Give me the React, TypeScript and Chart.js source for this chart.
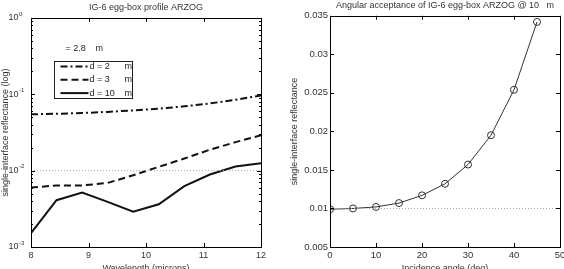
import React, { useEffect, useRef } from "react";
import { Chart, registerables } from "chart.js";
Chart.register(...registerables);

// ---------- Left chart data ----------
const wavelengths = [8, 8.444, 8.889, 9.333, 9.778, 10.222, 10.667, 11.111, 11.556, 12];
const reflD2 = [0.0547, 0.0555, 0.0568, 0.0588, 0.0615, 0.0648, 0.0695, 0.0758, 0.0845, 0.0964];
const reflD3 = [0.006, 0.0064, 0.0064, 0.0069, 0.0087, 0.0112, 0.0144, 0.0188, 0.0236, 0.0291];
const reflD10 = [0.00152, 0.0041, 0.00515, 0.0039, 0.00289, 0.00363, 0.00628, 0.0089, 0.0113, 0.01247];
const leftSeriesLabels = ["d = 2", "d = 3", "d = 10"];
const leftUnit = "m";
const leftHeader = ["= 2.8", "m"];
const leftRefX = [8, 12];
const leftRefY = [0.01, 0.01];
const leftXTicks = [8, 9, 10, 11, 12];
const leftYTicks = [0.001, 0.01, 0.1, 1];
const leftYTickBase = "10";
const leftYTickExponents = ["-3", "-2", "-1", "0"];
const leftTitle = "IG-6 egg-box profile ARZOG";
const leftXTitle = "Wavelength (microns)";
const leftYTitle = "single-interface reflectance (log)";

// ---------- Right chart data ----------
const angles = [0, 5, 10, 15, 20, 25, 30, 35, 40, 45];
const angularRefl = [0.0099, 0.01, 0.0102, 0.0107, 0.0117, 0.0132, 0.0157, 0.0195, 0.0254, 0.0342];
const rightRefX = [0, 50];
const rightRefY = [0.01, 0.01];
const rightXTicks = [0, 10, 20, 30, 40, 50];
const rightYTicks = [0.005, 0.01, 0.015, 0.02, 0.025, 0.03, 0.035];
const rightYTickLabels = ["0.005", "0.01", "0.015", "0.02", "0.025", "0.03", "0.035"];
const rightTitle = "Angular acceptance of IG-6 egg-box ARZOG @ 10   m";
const rightXTitle = "Incidence angle (deg)";
const rightYTitle = "single-interface reflectance";

const FONT = "'Liberation Sans', Arial, sans-serif";
const TXT = "#333";

const framePlugin = {
  id: "frame",
  afterDraw(chart: any) {
    const { ctx, chartArea: a, scales } = chart;
    const x = scales.x;
    const y = scales.y;
    ctx.save();
    ctx.strokeStyle = "#000";
    ctx.lineWidth = 1;
    const L = 4;
    ctx.beginPath();
    x.ticks.forEach((t: any) => {
      const px = Math.round(x.getPixelForValue(t.value)) + 0.5;
      ctx.moveTo(px, a.bottom);
      ctx.lineTo(px, a.bottom - L);
      ctx.moveTo(px, a.top);
      ctx.lineTo(px, a.top + L);
    });
    y.ticks.forEach((t: any) => {
      const py = Math.round(y.getPixelForValue(t.value)) + 0.5;
      ctx.moveTo(a.left, py);
      ctx.lineTo(a.left + L, py);
      ctx.moveTo(a.right, py);
      ctx.lineTo(a.right - L, py);
    });
    if (y.type === "logarithmic") {
      for (let e = -3; e < 0; e++) {
        for (let m = 2; m <= 9; m++) {
          const py = Math.round(y.getPixelForValue(m * Math.pow(10, e))) + 0.5;
          ctx.moveTo(a.left, py);
          ctx.lineTo(a.left + 2, py);
          ctx.moveTo(a.right, py);
          ctx.lineTo(a.right - 2, py);
        }
      }
    }
    ctx.stroke();
    ctx.strokeRect(
      Math.round(a.left) + 0.5,
      Math.round(a.top) + 0.5,
      Math.round(a.right) - Math.round(a.left),
      Math.round(a.bottom) - Math.round(a.top)
    );
    ctx.restore();
  },
};

// draws the small exponent next to each "10" tick label of the log axis
const exponentPlugin = {
  id: "exponents",
  afterDraw(chart: any) {
    const { ctx, chartArea: a, scales } = chart;
    const y = scales.y;
    ctx.save();
    ctx.font = `6px ${FONT}`;
    ctx.fillStyle = TXT;
    ctx.textAlign = "left";
    ctx.textBaseline = "middle";
    leftYTicks.forEach((v, i) => {
      const py = y.getPixelForValue(v);
      ctx.fillText(leftYTickExponents[i], a.left - 12, py - 4);
    });
    ctx.restore();
  },
};

const legendPlugin = {
  id: "boxLegend",
  afterDraw(chart: any) {
    const { ctx, chartArea: a } = chart;
    const bx = Math.round(a.left) + 23.5;
    const by = Math.round(a.top) + 43.5;
    const bw = 78;
    const bh = 37;
    ctx.save();
    ctx.font = `9px ${FONT}`;
    ctx.fillStyle = "#222";
    ctx.textBaseline = "middle";
    ctx.textAlign = "left";
    ctx.fillText(leftHeader[0], a.left + 34.5, a.top + 31);
    ctx.fillText(leftHeader[1], a.left + 64.5, a.top + 31);
    ctx.fillStyle = "#fff";
    ctx.fillRect(bx, by, bw, bh);
    ctx.strokeStyle = "#222";
    ctx.lineWidth = 1;
    ctx.strokeRect(bx, by, bw, bh);
    const ds = chart.data.datasets.filter((d: any) => d.inLegend);
    ds.forEach((d: any, i: number) => {
      const ry = by + 5 + i * 13.3;
      ctx.beginPath();
      ctx.setLineDash(d.borderDash || []);
      ctx.strokeStyle = d.borderColor;
      ctx.lineWidth = d.borderWidth;
      ctx.moveTo(bx + 6, ry);
      ctx.lineTo(bx + 34, ry);
      ctx.stroke();
      ctx.setLineDash([]);
      ctx.fillStyle = "#222";
      ctx.fillText(d.label, bx + 35, ry);
      ctx.fillText(leftUnit, bx + 70, ry);
    });
    ctx.restore();
  },
};

function toXY(xs: number[], ys: number[]) {
  return xs.map((x, i) => ({ x, y: ys[i] }));
}

function LeftChart() {
  const ref = useRef<HTMLCanvasElement>(null);
  useEffect(() => {
    const lineStyles = [
      [7, 3, 2, 3],
      [7, 4],
      [],
    ];
    const series = [reflD2, reflD3, reflD10];
    const chart = new Chart(ref.current!, {
      type: "line",
      data: {
        datasets: [
          {
            label: "ref",
            data: toXY(leftRefX, leftRefY),
            borderColor: "#aaa",
            borderWidth: 1,
            borderDash: [1, 2],
            pointRadius: 0,
            inLegend: false,
          } as any,
          ...series.map((s, i) => ({
            label: leftSeriesLabels[i],
            data: toXY(wavelengths, s),
            borderColor: "#111",
            borderWidth: 2,
            borderDash: lineStyles[i],
            pointRadius: 0,
            tension: 0,
            inLegend: true,
          })),
        ],
      },
      options: {
        animation: false,
        responsive: false,
        layout: { padding: { left: 0, right: 21, top: 0, bottom: 0 } },
        plugins: {
          legend: { display: false },
          tooltip: { enabled: false },
          title: {
            display: true,
            fullSize: false,
            text: leftTitle,
            color: TXT,
            font: { family: FONT, size: 9, weight: "normal" },
            padding: { top: 0, bottom: 5 },
          },
        },
        scales: {
          x: {
            type: "linear",
            min: 8,
            max: 12,
            afterBuildTicks: (s: any) => {
              s.ticks = leftXTicks.map((v) => ({ value: v }));
            },
            afterFit: (s: any) => {
              s.height = 27;
            },
            grid: { display: false, drawTicks: false },
            border: { display: false },
            ticks: {
              color: TXT,
              font: { family: FONT, size: 9 },
              padding: 3,
              maxRotation: 0,
              callback: (v: any) => String(v),
            },
            title: {
              display: true,
              text: leftXTitle,
              color: TXT,
              font: { family: FONT, size: 9 },
              padding: { top: 0, bottom: 0 },
            },
          },
          y: {
            type: "logarithmic",
            min: 0.001,
            max: 1,
            afterBuildTicks: (s: any) => {
              s.ticks = leftYTicks.map((v) => ({ value: v }));
            },
            afterFit: (s: any) => {
              s.width = 31;
            },
            grid: { display: false, drawTicks: false },
            border: { display: false },
            ticks: {
              color: TXT,
              font: { family: FONT, size: 9 },
              padding: 12.5,
              callback: () => leftYTickBase,
            },
            title: {
              display: true,
              text: leftYTitle,
              color: TXT,
              font: { family: FONT, size: 9 },
              padding: { top: 0, bottom: 0 },
            },
          },
        },
      } as any,
      plugins: [framePlugin, exponentPlugin, legendPlugin],
    });
    return () => chart.destroy();
  }, []);
  return (
    <canvas
      ref={ref}
      width={282}
      height={274}
      style={{ position: "absolute", left: 0, top: 0, width: 282, height: 274 }}
    />
  );
}

function RightChart() {
  const ref = useRef<HTMLCanvasElement>(null);
  useEffect(() => {
    const chart = new Chart(ref.current!, {
      type: "line",
      data: {
        datasets: [
          {
            label: "ref",
            data: toXY(rightRefX, rightRefY),
            borderColor: "#aaa",
            borderWidth: 1,
            borderDash: [1, 2],
            pointRadius: 0,
          },
          {
            label: "reflectance",
            data: toXY(angles, angularRefl),
            borderColor: "#333",
            borderWidth: 1,
            tension: 0,
            pointRadius: 3.5,
            pointStyle: "circle",
            pointBorderColor: "#333",
            pointBackgroundColor: "rgba(0,0,0,0)",
            pointBorderWidth: 1,
          },
        ],
      },
      options: {
        animation: false,
        responsive: false,
        layout: { padding: { left: 0, right: 12, top: 0, bottom: 0 } },
        plugins: {
          legend: { display: false },
          tooltip: { enabled: false },
          title: {
            display: true,
            fullSize: false,
            text: rightTitle,
            color: TXT,
            font: { family: FONT, size: 9, weight: "normal" },
            padding: { top: 0, bottom: 5 },
          },
        },
        scales: {
          x: {
            type: "linear",
            min: 0,
            max: 50,
            afterBuildTicks: (s: any) => {
              s.ticks = rightXTicks.map((v) => ({ value: v }));
            },
            afterFit: (s: any) => {
              s.height = 27;
            },
            grid: { display: false, drawTicks: false },
            border: { display: false },
            ticks: {
              color: TXT,
              font: { family: FONT, size: 9.5 },
              padding: 3,
              maxRotation: 0,
              callback: (v: any) => String(v),
            },
            title: {
              display: true,
              text: rightXTitle,
              color: TXT,
              font: { family: FONT, size: 9 },
              padding: { top: 0, bottom: 0 },
            },
          },
          y: {
            type: "linear",
            min: 0.005,
            max: 0.035,
            afterBuildTicks: (s: any) => {
              s.ticks = rightYTicks.map((v) => ({ value: v }));
            },
            afterFit: (s: any) => {
              s.width = 48;
            },
            grid: { display: false, drawTicks: false },
            border: { display: false },
            ticks: {
              color: TXT,
              font: { family: FONT, size: 9.5 },
              padding: 2,
              callback: (v: any) => {
                const i = rightYTicks.findIndex((t) => Math.abs(t - v) < 1e-9);
                return i >= 0 ? rightYTickLabels[i] : "";
              },
            },
            title: {
              display: true,
              text: rightYTitle,
              color: TXT,
              font: { family: FONT, size: 9 },
              padding: { top: 7, bottom: 0 },
            },
          },
        },
      } as any,
      plugins: [framePlugin],
    });
    return () => chart.destroy();
  }, []);
  return (
    <canvas
      ref={ref}
      width={290}
      height={274}
      style={{ position: "absolute", left: 282, top: 0, width: 290, height: 274 }}
    />
  );
}

export default function App() {
  return (
    <div
      style={{
        position: "fixed",
        left: 0,
        top: 0,
        width: 564,
        height: 269,
        overflow: "hidden",
        background: "#fff",
      }}
    >
      <LeftChart />
      <RightChart />
    </div>
  );
}
